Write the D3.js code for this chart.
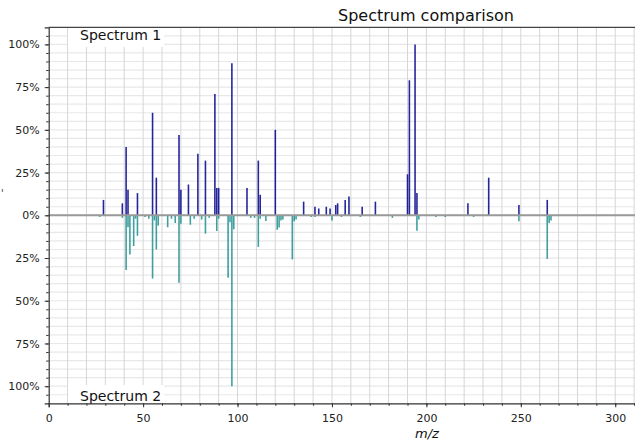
<!DOCTYPE html>
<html>
<head>
<meta charset="utf-8">
<script src="https://cdn.jsdelivr.net/npm/d3@7"></script>
<style>
  body { margin: 0; background: #fff; }
  svg { display: block; font-family: "DejaVu Sans", sans-serif; }
  .axis path, .axis line { stroke: #333; }
  .axis text { fill: #222; font-size: 11px; font-family: "DejaVu Sans", sans-serif; }
</style>
</head>
<body>
<svg width="635" height="442"></svg>
<script>
// spectrum 1 (top)
var topMz = [29, 39, 41, 42, 47, 55, 57, 69, 70, 74, 79, 83, 88, 89, 90, 97, 105, 111, 112, 120,
  135, 141, 143, 147, 149, 152, 153, 157, 159, 166, 173, 190, 191, 194, 195, 222, 233, 249, 264];
var topInt = [0.09, 0.07, 0.40, 0.15, 0.13, 0.60, 0.22, 0.47, 0.15, 0.18, 0.36, 0.32, 0.71, 0.16, 0.16, 0.89, 0.16, 0.32, 0.12, 0.50,
  0.08, 0.05, 0.04, 0.05, 0.04, 0.06, 0.07, 0.09, 0.11, 0.05, 0.08, 0.24, 0.79, 1.00, 0.13, 0.07, 0.22, 0.06, 0.09];

// spectrum 2 (bottom, mirrored)
var botMz = [27, 39, 41, 42, 43, 45, 46, 47, 51, 53, 55, 56, 57, 58, 63, 65, 67, 69, 70, 75, 77, 81, 83, 85, 89, 90,
  95, 96, 97, 98, 107, 109, 111, 112, 115, 121, 122, 123, 124, 129, 130, 131, 139, 141, 150, 155, 165, 182,
  195, 196, 205, 210, 225, 249, 264, 265, 266];
var botInt = [0.01, 0.015, 0.32, 0.07, 0.23, 0.18, 0.02, 0.12, 0.01, 0.02, 0.37, 0.03, 0.20, 0.06, 0.07, 0.02, 0.045, 0.395, 0.05, 0.055, 0.02, 0.025, 0.107, 0.015, 0.092, 0.02,
  0.365, 0.04, 1.00, 0.082, 0.015, 0.015, 0.185, 0.02, 0.033, 0.084, 0.072, 0.03, 0.025, 0.258, 0.035, 0.025, 0.01, 0.01, 0.03, 0.01, 0.01, 0.015,
  0.09, 0.025, 0.01, 0.01, 0.01, 0.035, 0.255, 0.045, 0.03];

var xTicks = [0, 50, 100, 150, 200, 250, 300];
var yTicks = [-1, -0.75, -0.5, -0.25, 0, 0.25, 0.5, 0.75, 1];

var svg = d3.select("svg");
svg.append("rect").attr("width", 635).attr("height", 442).attr("fill", "#fff");

var x = d3.scaleLinear().domain([0, 311]).range([48.7, 636]);
var y = d3.scaleLinear().domain([-1.1, 1.1]).range([403.3, 27.3]);

// grid
svg.append("g").selectAll("line")
  .data(d3.range(-1.05, 1.06, 0.05))
  .enter().append("line")
  .attr("x1", x(0)).attr("x2", 636)
  .attr("y1", d => y(d)).attr("y2", d => y(d))
  .attr("stroke", "#e8e8e8").attr("stroke-width", 1.2);
svg.append("g").selectAll("line")
  .data(d3.range(10, 320, 10))
  .enter().append("line")
  .attr("x1", d => x(d)).attr("x2", d => x(d))
  .attr("y1", y(1.1)).attr("y2", y(-1.1))
  .attr("stroke", "#d6d6d6").attr("stroke-width", 1);

// peaks
svg.append("g").selectAll("line")
  .data(topMz.map((m, i) => [m, topInt[i]]))
  .enter().append("line")
  .attr("x1", d => x(d[0])).attr("x2", d => x(d[0]))
  .attr("y1", y(0)).attr("y2", d => y(d[1]))
  .attr("stroke", "#00008b").attr("stroke-opacity", 0.85).attr("stroke-width", 1.6);
svg.append("g").selectAll("line")
  .data(botMz.map((m, i) => [m, botInt[i]]))
  .enter().append("line")
  .attr("x1", d => x(d[0])).attr("x2", d => x(d[0]))
  .attr("y1", y(0)).attr("y2", d => y(-d[1]))
  .attr("stroke", "#008080").attr("stroke-opacity", 0.75).attr("stroke-width", 1.6);

// zero line
svg.append("line")
  .attr("x1", x(0)).attr("x2", 636).attr("y1", y(0)).attr("y2", y(0))
  .attr("stroke", "#999").attr("stroke-width", 2);

// spectrum name boxes
svg.append("rect").attr("x", 68).attr("y", 28).attr("width", 96).attr("height", 19).attr("fill", "#fff");
svg.append("text").attr("x", 80).attr("y", 40).attr("font-size", 14).attr("fill", "#111").text("Spectrum 1");
svg.append("rect").attr("x", 68).attr("y", 385).attr("width", 96).attr("height", 18).attr("fill", "#fff");
svg.append("text").attr("x", 80).attr("y", 401).attr("font-size", 14).attr("fill", "#111").text("Spectrum 2");

// axes
svg.append("g").attr("class", "axis")
  .attr("transform", "translate(" + x(0) + ",0)")
  .call(d3.axisLeft(y).tickValues(d3.range(-1.05, 1.06, 0.05)).tickSize(2.5).tickFormat(""))
  .call(g => g.select(".domain").remove());
svg.append("g").attr("class", "axis")
  .attr("transform", "translate(" + x(0) + ",0)")
  .call(d3.axisLeft(y).tickValues(yTicks).tickSize(4).tickPadding(5)
    .tickFormat(d => Math.round(Math.abs(d) * 100) + "%"))
  .call(g => g.select(".domain").attr("stroke-width", 1.2));

svg.append("g").attr("class", "axis")
  .attr("transform", "translate(0," + y(-1.1) + ")")
  .call(d3.axisBottom(x).tickValues(d3.range(10, 320, 10)).tickSize(2.5).tickFormat(""))
  .call(g => g.select(".domain").remove());
svg.append("g").attr("class", "axis")
  .attr("transform", "translate(0," + y(-1.1) + ")")
  .call(d3.axisBottom(x).tickValues(xTicks).tickSize(4).tickPadding(7))
  .call(g => g.select(".domain").attr("stroke-width", 1.2));

// top frame
svg.append("line")
  .attr("x1", x(0)).attr("x2", 636).attr("y1", y(1.1)).attr("y2", y(1.1))
  .attr("stroke", "#444").attr("stroke-width", 1.2);

// titles
svg.append("text").attr("x", 426).attr("y", 21).attr("text-anchor", "middle")
  .attr("font-size", 16).attr("fill", "#111").text("Spectrum comparison");
svg.append("text").attr("x", 427).attr("y", 438).attr("text-anchor", "middle")
  .attr("font-size", 13).attr("font-style", "italic").attr("fill", "#111").text("m/z");
svg.append("text").attr("x", 1).attr("y", 197).attr("font-size", 10).attr("fill", "#333").text("'");
</script>
</body>
</html>
